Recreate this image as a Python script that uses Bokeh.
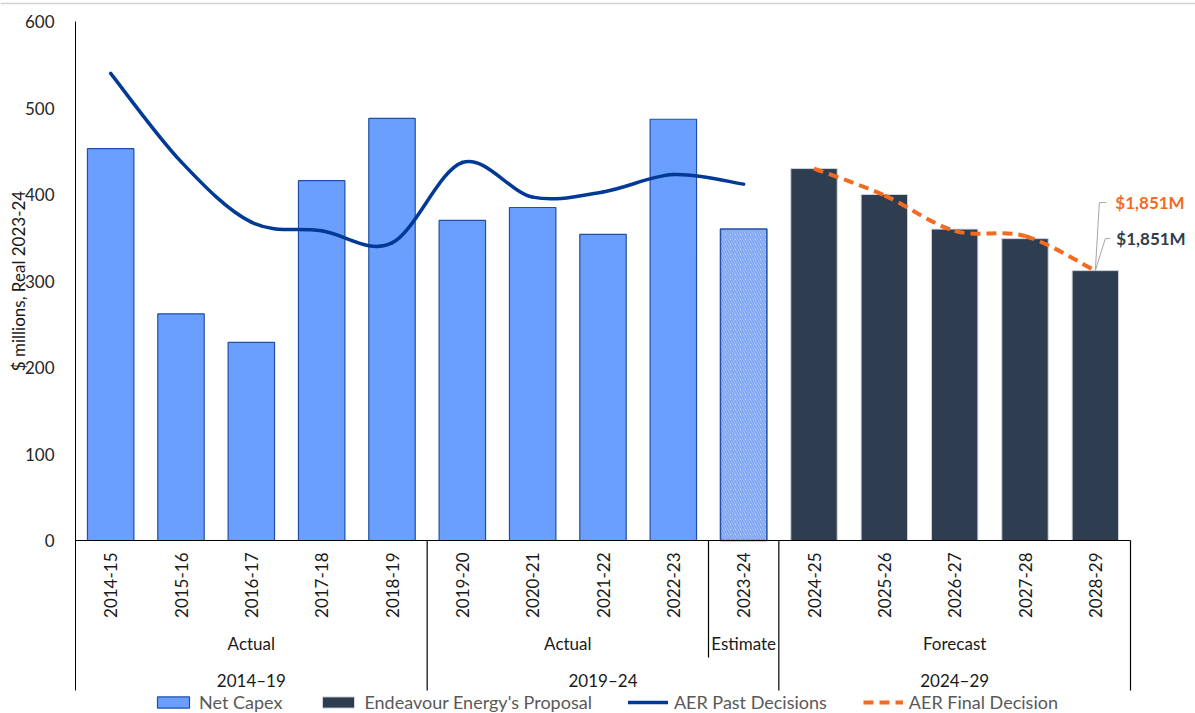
import math

from bokeh.core.properties import value
from bokeh.embed import file_html
from bokeh.models import FixedTicker, Legend, LegendItem, Range1d, Span
from bokeh.plotting import figure
from bokeh.resources import INLINE

# ---- data ($ millions, real 2023-24) ----
years = ["2014-15", "2015-16", "2016-17", "2017-18", "2018-19",
         "2019-20", "2020-21", "2021-22", "2022-23", "2023-24",
         "2024-25", "2025-26", "2026-27", "2027-28", "2028-29"]
net_capex = [453, 262, 229, 416, 488, 370, 385, 354, 487]      # actuals
estimate = [360]                                               # 2023-24 estimate
proposal = [430, 400, 360, 349, 312]                           # 2024-29 proposal
aer_past = [540, 438, 368, 358, 344, 437, 397, 403, 423, 412]  # 2014-15 .. 2023-24
aer_final = [430, 399, 358, 352, 312]                          # 2024-25 .. 2028-29
stages = [("Actual", 5), ("Actual", 4), ("Estimate", 1), ("Forecast", 5)]
periods = [("2014\u201319", 5), ("2019\u201324", 5), ("2024\u201329", 5)]
y_ticks = [0, 100, 200, 300, 400, 500, 600]
y_title = "$ millions, Real 2023-24"

FONT = value("Lato")
FS = "17px"
BLUE_FILL = "#6A9FFF"
BLUE_EDGE = "#1F4FA8"
SLATE = "#2F3D50"
NAVY = "#003A96"
ORANGE = "#F26B21"
INK = "#1a1a1a"

# canvas geometry: the data frame fills the whole canvas; the axes are pinned inside it
W, H = 1195, 713
PLOT_L, PLOT_R, PLOT_T, PLOT_B = 75, 1130, 21, 540   # edges of the value area, px
n_cat = len(years)
CAT_MIN, CAT_MAX = -0.5, n_cat - 0.5
Y_TOP = y_ticks[-1]
px_x = (PLOT_R - PLOT_L) / n_cat               # pixels per category
px_y = (PLOT_B - PLOT_T) / Y_TOP               # pixels per $m

x_lo = CAT_MIN - PLOT_L / px_x
x_hi = CAT_MIN + (W - PLOT_L) / px_x
y_hi = Y_TOP + PLOT_T / px_y
y_lo = y_hi - H / px_y

AXIS_FOOT = -150 / px_y        # depth of axis / separator lines below zero
STAGE_ROW = -103 / px_y
PERIOD_ROW = -140 / px_y
STAGE_SEP_FOOT = -117 / px_y

p = figure(width=W, height=H, output_backend="svg", toolbar_location=None,
           x_range=Range1d(x_lo, x_hi), y_range=Range1d(y_lo, y_hi), min_border=0)
p.outline_line_color = None
p.xgrid.visible = False
p.ygrid.visible = False

p.add_layout(Span(location=y_hi - 3 / px_y, dimension="width",
                  line_color="#D4D4D4", line_width=1.5))

idx = list(range(n_cat))
n_act = len(net_capex)
n_est = len(estimate)

bars_actual = p.vbar(x=idx[:n_act], top=net_capex, width=0.66, fill_color=BLUE_FILL,
                     line_color=BLUE_EDGE, line_width=1.2)
p.vbar(x=idx[n_act:n_act + n_est], top=estimate, width=0.66, fill_color="white",
       hatch_pattern="\\", hatch_color="#7EA6F2", hatch_scale=5, hatch_weight=2,
       line_color=BLUE_EDGE, line_width=1.5)
bars_prop = p.vbar(x=idx[n_act + n_est:], top=proposal, width=0.66, fill_color=SLATE,
                   line_color="#D0D4DA", line_width=1)


def smooth(xs, ys):
    """Cubic Bezier pieces through the points (Catmull-Rom style tangents)."""
    out = {k: [] for k in ("x0", "y0", "x1", "y1", "cx0", "cy0", "cx1", "cy1")}
    n = len(xs)
    for i in range(n - 1):
        xp, yp = (xs[i - 1], ys[i - 1]) if i > 0 else (xs[i], ys[i])
        xn, yn = (xs[i + 2], ys[i + 2]) if i + 2 < n else (xs[i + 1], ys[i + 1])
        out["x0"].append(xs[i]); out["y0"].append(ys[i])
        out["x1"].append(xs[i + 1]); out["y1"].append(ys[i + 1])
        out["cx0"].append(xs[i] + (xs[i + 1] - xp) / 6)
        out["cy0"].append(ys[i] + (ys[i + 1] - yp) / 6)
        out["cx1"].append(xs[i + 1] - (xn - xs[i]) / 6)
        out["cy1"].append(ys[i + 1] - (yn - ys[i]) / 6)
    return out


past_r = p.bezier(**smooth(idx[:len(aer_past)], aer_past), line_color=NAVY,
                  line_width=3.5, line_cap="round")
final_r = p.bezier(**smooth(idx[n_cat - len(aer_final):], aer_final),
                   line_color=ORANGE, line_width=4, line_dash="10 6")

# ---- axes ----
p.yaxis.fixed_location = CAT_MIN
p.yaxis.ticker = FixedTicker(ticks=y_ticks)
p.yaxis.bounds = (AXIS_FOOT, Y_TOP)
p.yaxis.major_tick_in = 0
p.yaxis.major_tick_out = 0
p.yaxis.minor_tick_in = 0
p.yaxis.minor_tick_out = 0
p.yaxis.axis_line_color = "black"
p.yaxis.major_label_standoff = 21
p.yaxis.major_label_text_font = "Lato"
p.yaxis.major_label_text_font_size = FS
p.yaxis.major_label_text_color = "#262626"

p.xaxis.fixed_location = 0
p.xaxis.bounds = (CAT_MIN, CAT_MAX)
p.xaxis.ticker = FixedTicker(ticks=idx)
p.xaxis.major_label_overrides = {i: y for i, y in zip(idx, years)}
p.xaxis.major_label_orientation = math.pi / 2
p.xaxis.major_label_standoff = 12
p.xaxis.major_tick_in = 0
p.xaxis.major_tick_out = 0
p.xaxis.minor_tick_in = 0
p.xaxis.minor_tick_out = 0
p.xaxis.axis_line_color = "black"
p.xaxis.major_label_text_font = "Lato"
p.xaxis.major_label_text_font_size = FS
p.xaxis.major_label_text_color = INK

p.text(x=[x_lo + 18 / px_x], y=[Y_TOP / 2], text=[y_title], angle=math.pi / 2,
       text_font=FONT, text_font_size=FS, text_color=INK,
       text_align="center", text_baseline="middle")

# ---- category groups below the axis ----
def spans(groups):
    starts, s = [], 0
    for _, n in groups:
        starts.append(s)
        s += n
    return starts


stage_starts = spans(stages)
period_starts = spans(periods)
period_edges = [s + n - 0.5 for s, (_, n) in zip(period_starts, periods)]
stage_edges = [s + n - 0.5 for s, (_, n) in zip(stage_starts, stages)]
inner_edges = [e for e in stage_edges if e not in period_edges]

p.segment(x0=period_edges, y0=[0] * len(period_edges), x1=period_edges,
          y1=[AXIS_FOOT] * len(period_edges), line_color="black", line_width=1.2)
p.segment(x0=inner_edges, y0=[0] * len(inner_edges), x1=inner_edges,
          y1=[STAGE_SEP_FOOT] * len(inner_edges), line_color="black", line_width=1.2)

p.text(x=[s + (n - 1) / 2 for s, (_, n) in zip(stage_starts, stages)],
       y=[STAGE_ROW] * len(stages), text=[name for name, _ in stages],
       text_font=FONT, text_font_size=FS, text_color=INK,
       text_align="center", text_baseline="middle")
p.text(x=[s + (n - 1) / 2 for s, (_, n) in zip(period_starts, periods)],
       y=[PERIOD_ROW] * len(periods), text=[name for name, _ in periods],
       text_font=FONT, text_font_size=FS, text_color=INK,
       text_align="center", text_baseline="middle")

# ---- totals for the 2024-29 period ----
end_x, end_y = idx[-1], aer_final[-1]


def pt(dx, dy):
    return end_x + dx / px_x, end_y - dy / px_y


leaders = [[(0, 0), (4, -68), (11, -68)], [(0, 0), (10, -32), (15, -32)]]
p.multi_line(xs=[[pt(*q)[0] for q in line] for line in leaders],
             ys=[[pt(*q)[1] for q in line] for line in leaders],
             line_color="#A6A6A6", line_width=1)
p.text(x=[end_x, end_x], y=[end_y, end_y],
       text=[f"${sum(aer_final):,}M", f"${sum(proposal):,}M"],
       x_offset=[20, 21], y_offset=[-68, -32],
       text_color=[ORANGE, SLATE], text_font=FONT, text_font_size=FS,
       text_font_style="bold", text_align="left", text_baseline="middle")

# ---- legend ----
legend = Legend(items=[
    LegendItem(label="Net Capex", renderers=[bars_actual]),
    LegendItem(label="Endeavour Energy's Proposal", renderers=[bars_prop]),
    LegendItem(label="AER Past Decisions", renderers=[past_r]),
    LegendItem(label="AER Final Decision", renderers=[final_r]),
], orientation="horizontal", location=(153, 0))
legend.border_line_color = None
legend.background_fill_alpha = 0
legend.label_text_font = "Lato"
legend.label_text_font_size = "18px"
legend.label_text_color = "#595959"
legend.glyph_width = 40
legend.glyph_height = 14
legend.label_standoff = 6
legend.spacing = 36
legend.padding = 2
legend.margin = 0
p.add_layout(legend)

open("out.html", "w").write(file_html(p, INLINE))
